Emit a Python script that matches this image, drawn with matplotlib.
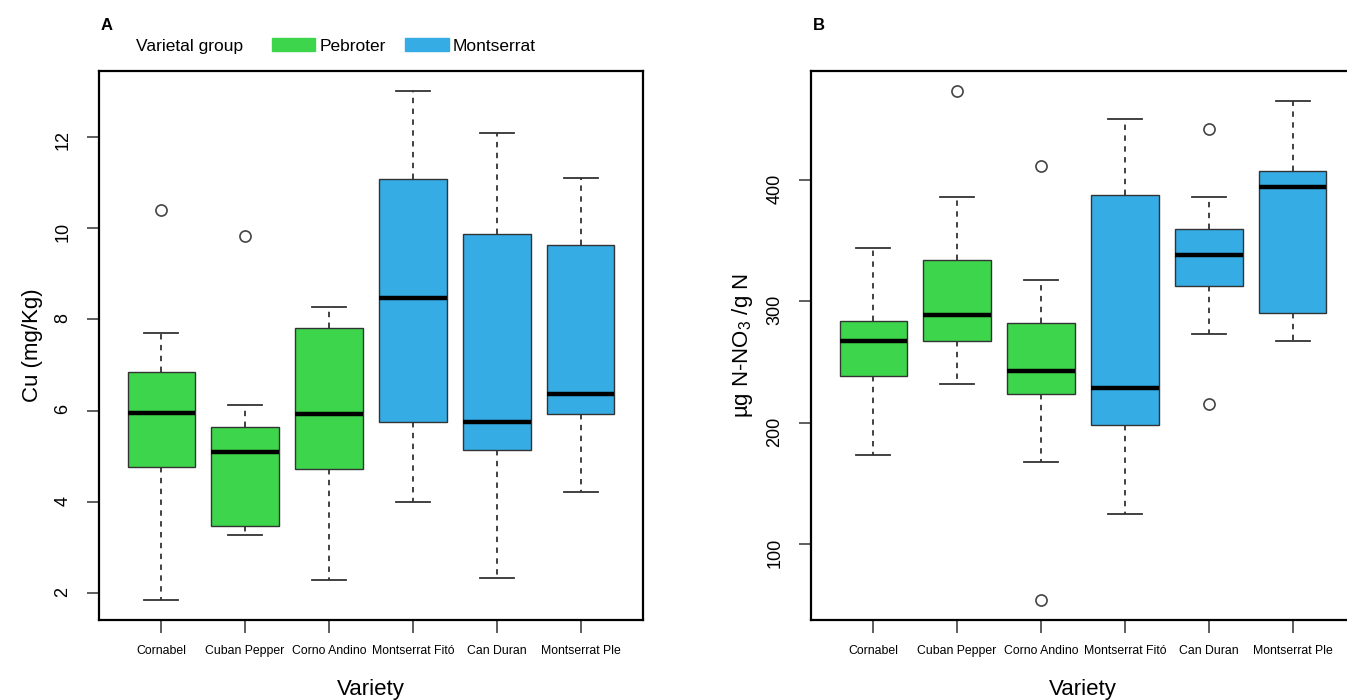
import numpy as np
import matplotlib
matplotlib.use('Agg')
import matplotlib.pyplot as plt
from matplotlib.patches import Patch

plt.rcParams['font.family'] = ['Liberation Sans', 'DejaVu Sans']
plt.rcParams['mathtext.default'] = 'regular'

varieties = ['Cornabel', 'Cuban Pepper', 'Corno Andino', 'Montserrat Fitó', 'Can Duran', 'Montserrat Ple']
groups = ['Pebroter', 'Pebroter', 'Pebroter', 'Montserrat', 'Montserrat', 'Montserrat']
group_colors = {'Pebroter': '#3dd54b', 'Montserrat': '#35ace4'}

# panel A - Cu (mg/Kg)
cu_whislo = [1.86, 3.28, 2.30, 4.01, 2.33, 4.21]
cu_q1 = [4.77, 3.47, 4.73, 5.75, 5.13, 5.93]
cu_med = [5.96, 5.10, 5.92, 8.47, 5.75, 6.36]
cu_q3 = [6.84, 5.64, 7.81, 11.08, 9.87, 9.63]
cu_whishi = [7.70, 6.12, 8.27, 13.00, 12.08, 11.10]
cu_fliers = [[10.41], [9.82], [], [], [], []]
cu_ticks = [2, 4, 6, 8, 10, 12]

# panel B - ug N-NO3 / g N
no3_whislo = [173.7, 232.2, 167.5, 125.1, 273.1, 267.5]
no3_q1 = [238.8, 267.8, 223.9, 198.5, 313.1, 290.7]
no3_med = [267.8, 289.0, 242.7, 228.7, 338.2, 394.3]
no3_q3 = [284.2, 334.3, 282.1, 387.5, 359.4, 407.5]
no3_whishi = [344.2, 386.0, 317.3, 450.7, 386.0, 465.1]
no3_fliers = [[], [473.1], [411.9, 54.3], [], [441.8, 215.8], []]
no3_ticks = [100, 200, 300, 400]


def draw_panel(ax, whislo, q1, med, q3, whishi, fliers, yticks, ylabel):
    stats = []
    for i in range(len(varieties)):
        stats.append(dict(whislo=whislo[i], q1=q1[i], med=med[i], q3=q3[i],
                          whishi=whishi[i], fliers=fliers[i]))
    pos = np.arange(1, len(varieties) + 1)
    res = ax.bxp(stats, positions=pos, widths=0.8, capwidths=0.4, patch_artist=True,
                 boxprops=dict(edgecolor='#333333', linewidth=1.0),
                 medianprops=dict(color='black', linewidth=3.2, solid_capstyle='butt'),
                 whiskerprops=dict(color='#333333', linewidth=1.3, linestyle=(0, (3, 3))),
                 capprops=dict(color='#333333', linewidth=1.3),
                 flierprops=dict(marker='o', markerfacecolor='none', markeredgecolor='#444444',
                                 markersize=8, markeredgewidth=1.2))
    for box, g in zip(res['boxes'], groups):
        box.set_facecolor(group_colors[g])

    # R style 4% padding
    allv = whislo + whishi + [v for f in fliers for v in f]
    lo, hi = min(allv), max(allv)
    pad = 0.04 * (hi - lo)
    ax.set_ylim(lo - pad, hi + pad)
    ax.set_xlim(0.5 - 0.24, len(varieties) + 0.5 + 0.24)

    ax.set_yticks(yticks)
    ax.set_yticklabels([str(t) for t in yticks])
    ax.set_xticks(pos)
    ax.set_xticklabels(varieties, fontsize=8.8)
    ax.tick_params(axis='both', direction='out', length=9, width=1.1, color='#333333')
    ax.tick_params(axis='y', labelrotation=90, labelsize=13, pad=11)
    ax.tick_params(axis='x', pad=9)
    for s in ax.spines.values():
        s.set_linewidth(1.6)
        s.set_color('black')
    ax.set_xlabel('Variety', fontsize=16, labelpad=16)
    ax.set_ylabel(ylabel, fontsize=16, labelpad=8)


fig = plt.figure(figsize=(13.47, 7), dpi=100)
axA = fig.add_axes([99 / 1347, 80 / 700, 544 / 1347, 549 / 700])
axB = fig.add_axes([811 / 1347, 80 / 700, 544 / 1347, 549 / 700])

draw_panel(axA, cu_whislo, cu_q1, cu_med, cu_q3, cu_whishi, cu_fliers, cu_ticks, 'Cu (mg/Kg)')
draw_panel(axB, no3_whislo, no3_q1, no3_med, no3_q3, no3_whishi, no3_fliers, no3_ticks,
           'µg N-NO$_3$ /g N')

fig.text(101 / 1347, 1 - 25 / 700, 'A', fontsize=12, fontweight='bold', va='center', ha='left')
fig.text(813 / 1347, 1 - 25 / 700, 'B', fontsize=12, fontweight='bold', va='center', ha='left')

# legend
fig.text(136 / 1347, 1 - 46 / 700, 'Varietal group', fontsize=12.5, va='center', ha='left')
handles = [Patch(facecolor=group_colors[g], edgecolor=group_colors[g]) for g in ['Pebroter', 'Montserrat']]
fig.legend(handles, ['Pebroter', 'Montserrat'], loc='center left',
           bbox_to_anchor=(272 / 1347, 1 - 46 / 700), ncol=2, frameon=False,
           prop=dict(size=12.5), handlelength=2.5, handleheight=0.7,
           handletextpad=0.25, columnspacing=1.1, borderpad=0, borderaxespad=0)

fig.savefig('out.png', dpi=100)
